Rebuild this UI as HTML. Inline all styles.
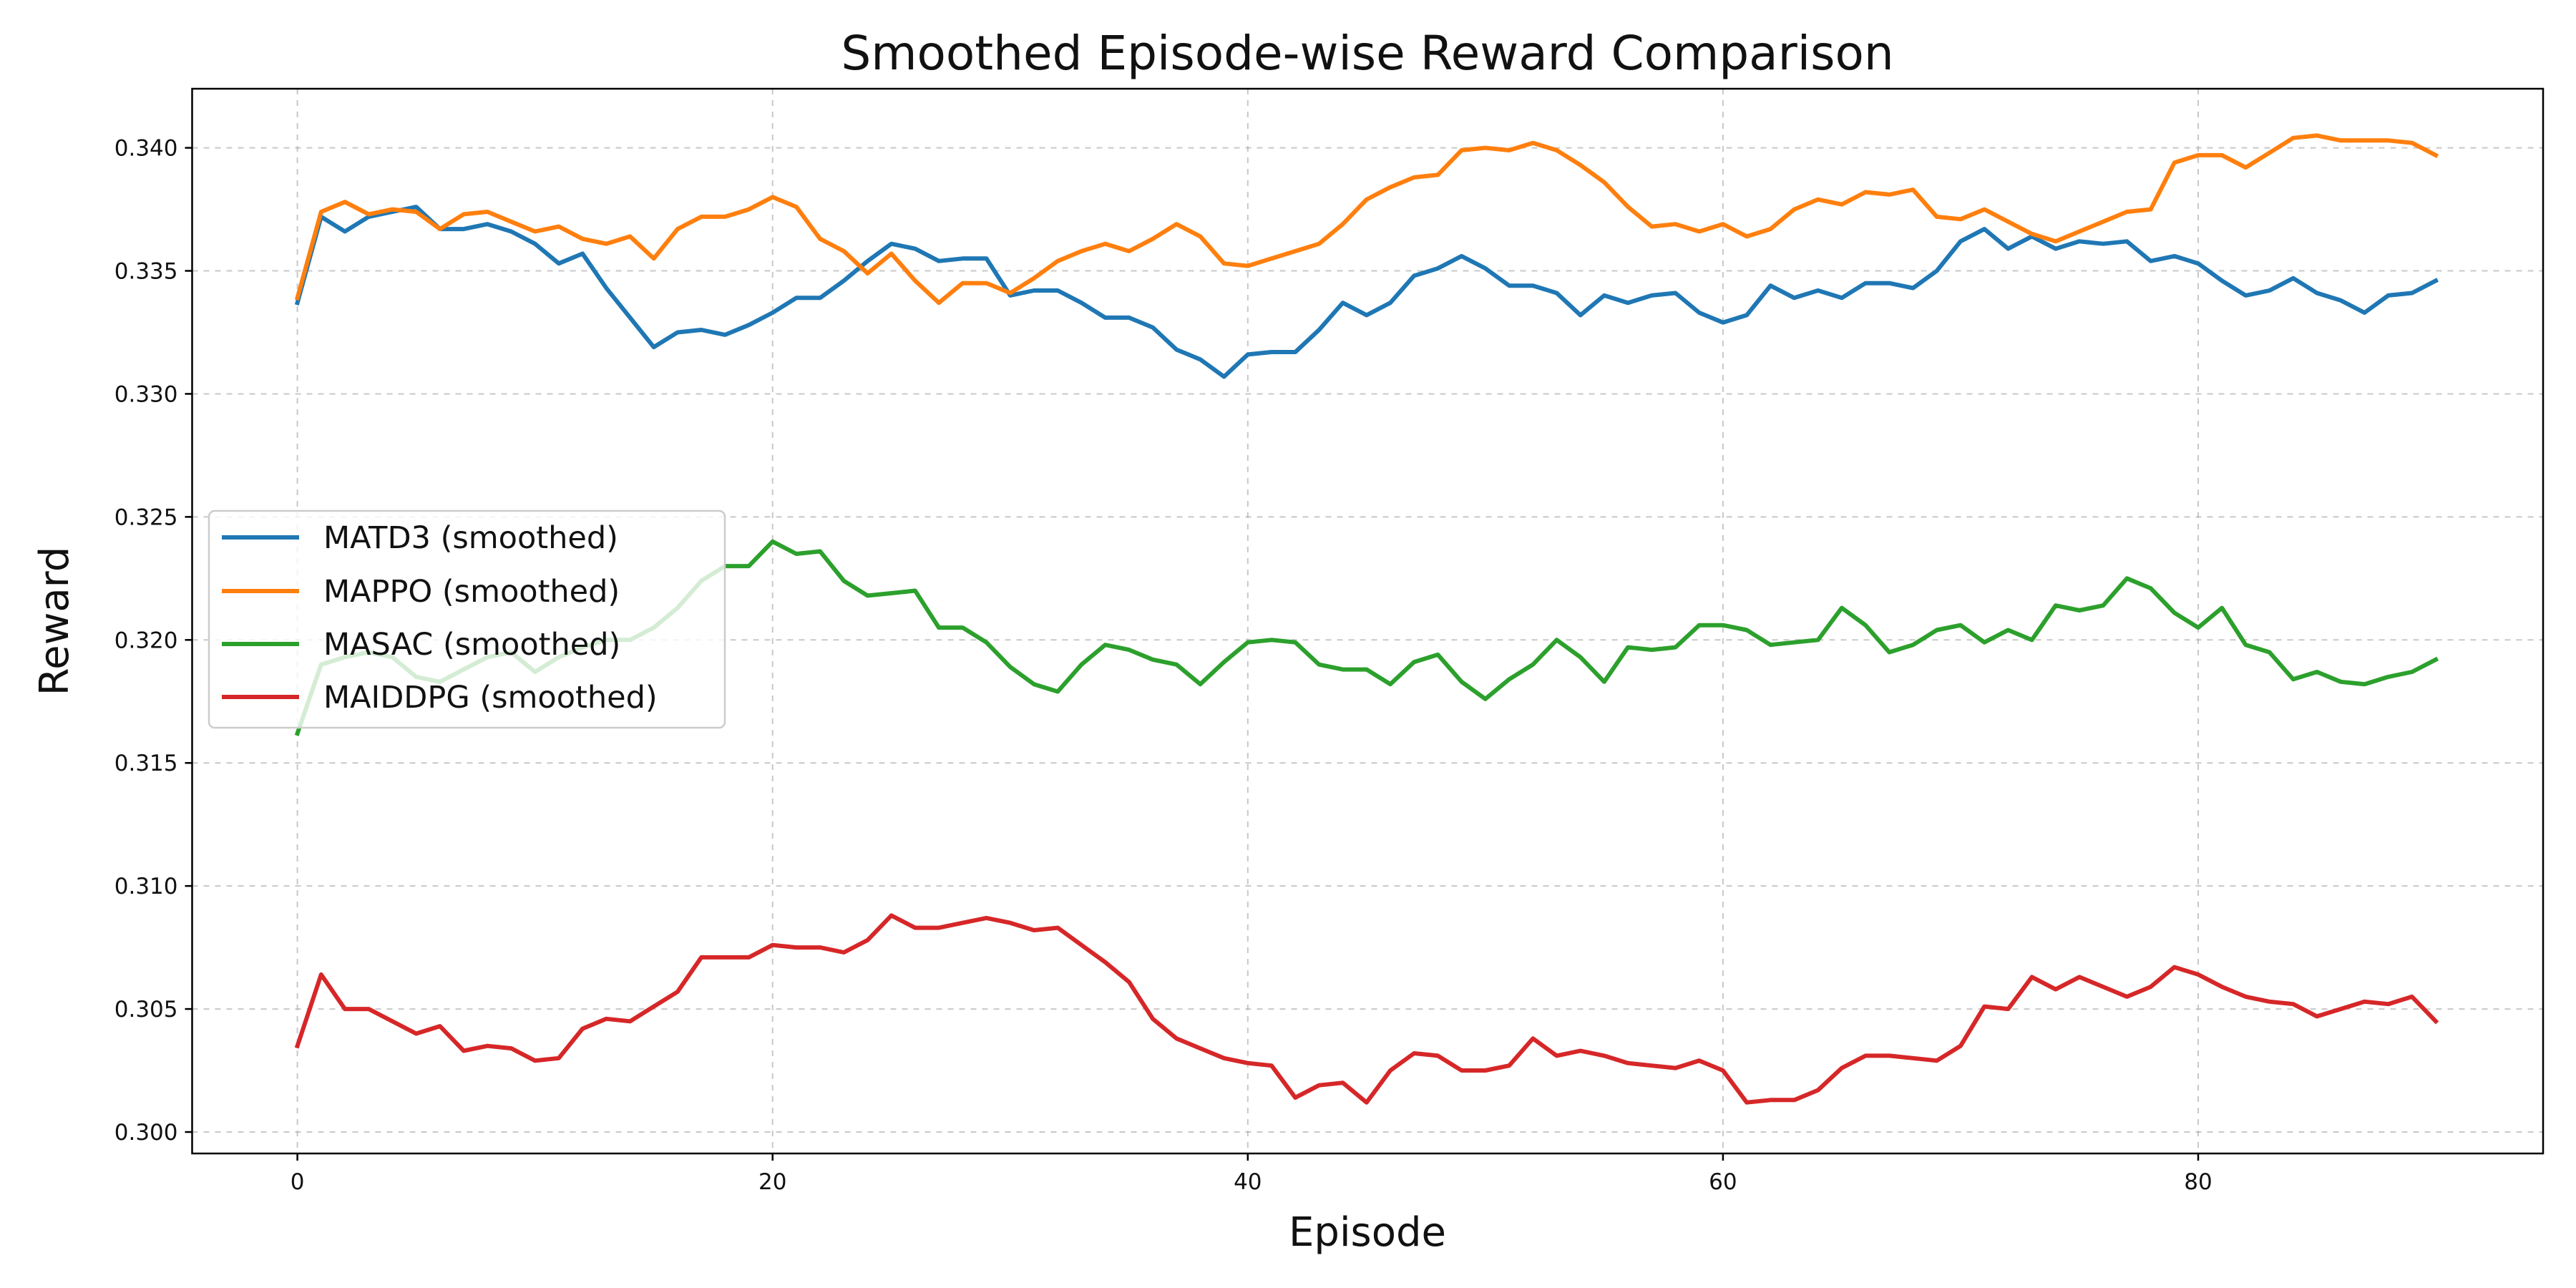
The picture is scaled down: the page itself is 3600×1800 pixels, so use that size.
<!DOCTYPE html>
<html><head><meta charset="utf-8"><style>
html,body{margin:0;padding:0;background:#fff;}
svg{display:block;font-family:"DejaVu Sans","Liberation Sans",sans-serif;}
</style></head><body>
<svg id="chart" width="3600" height="1800" viewBox="0 0 3600 1800" xmlns="http://www.w3.org/2000/svg">
<rect width="3600" height="1800" fill="#fff"/>
<text x="1911" y="97" font-size="66" text-anchor="middle" fill="#111">Smoothed Episode-wise Reward Comparison</text>
<text x="1911" y="1741" font-size="56" text-anchor="middle" fill="#111">Episode</text>
<text x="95" y="868" font-size="56" text-anchor="middle" fill="#111" transform="rotate(-90 95 868)">Reward</text>
<g id="grid"></g><g id="ticks"></g><g id="lines"></g>
<rect x="268.5" y="124" width="3285.5" height="1488" fill="none" stroke="#000" stroke-width="2.5"/>
<g id="legend"></g>
</svg>
<script>
const episodes = Array.from({length:91},(_,i)=>i);
const seriesNames = ["MATD3 (smoothed)","MAPPO (smoothed)","MASAC (smoothed)","MAIDDPG (smoothed)"];
const seriesColors = ["#1f77b4","#ff7f0e","#2ca02c","#d62728"];
const matd3 = [0.3337,0.3372,0.3366,0.3372,0.3374,0.3376,0.3367,0.3367,0.3369,0.3366,0.3361,0.3353,0.3357,0.3343,0.3331,0.3319,0.3325,0.3326,0.3324,0.3328,0.3333,0.3339,0.3339,0.3346,0.3354,0.3361,0.3359,0.3354,0.3355,0.3355,0.3340,0.3342,0.3342,0.3337,0.3331,0.3331,0.3327,0.3318,0.3314,0.3307,0.3316,0.3317,0.3317,0.3326,0.3337,0.3332,0.3337,0.3348,0.3351,0.3356,0.3351,0.3344,0.3344,0.3341,0.3332,0.3340,0.3337,0.3340,0.3341,0.3333,0.3329,0.3332,0.3344,0.3339,0.3342,0.3339,0.3345,0.3345,0.3343,0.3350,0.3362,0.3367,0.3359,0.3364,0.3359,0.3362,0.3361,0.3362,0.3354,0.3356,0.3353,0.3346,0.3340,0.3342,0.3347,0.3341,0.3338,0.3333,0.3340,0.3341,0.3346];
const mappo = [0.3339,0.3374,0.3378,0.3373,0.3375,0.3374,0.3367,0.3373,0.3374,0.3370,0.3366,0.3368,0.3363,0.3361,0.3364,0.3355,0.3367,0.3372,0.3372,0.3375,0.3380,0.3376,0.3363,0.3358,0.3349,0.3357,0.3346,0.3337,0.3345,0.3345,0.3341,0.3347,0.3354,0.3358,0.3361,0.3358,0.3363,0.3369,0.3364,0.3353,0.3352,0.3355,0.3358,0.3361,0.3369,0.3379,0.3384,0.3388,0.3389,0.3399,0.3400,0.3399,0.3402,0.3399,0.3393,0.3386,0.3376,0.3368,0.3369,0.3366,0.3369,0.3364,0.3367,0.3375,0.3379,0.3377,0.3382,0.3381,0.3383,0.3372,0.3371,0.3375,0.3370,0.3365,0.3362,0.3366,0.3370,0.3374,0.3375,0.3394,0.3397,0.3397,0.3392,0.3398,0.3404,0.3405,0.3403,0.3403,0.3403,0.3402,0.3397];
const masac = [0.3162,0.3190,0.3193,0.3195,0.3193,0.3185,0.3183,0.3188,0.3193,0.3195,0.3187,0.3193,0.3197,0.3200,0.3200,0.3205,0.3213,0.3224,0.3230,0.3230,0.3240,0.3235,0.3236,0.3224,0.3218,0.3219,0.3220,0.3205,0.3205,0.3199,0.3189,0.3182,0.3179,0.3190,0.3198,0.3196,0.3192,0.3190,0.3182,0.3191,0.3199,0.3200,0.3199,0.3190,0.3188,0.3188,0.3182,0.3191,0.3194,0.3183,0.3176,0.3184,0.3190,0.3200,0.3193,0.3183,0.3197,0.3196,0.3197,0.3206,0.3206,0.3204,0.3198,0.3199,0.3200,0.3213,0.3206,0.3195,0.3198,0.3204,0.3206,0.3199,0.3204,0.3200,0.3214,0.3212,0.3214,0.3225,0.3221,0.3211,0.3205,0.3213,0.3198,0.3195,0.3184,0.3187,0.3183,0.3182,0.3185,0.3187,0.3192];
const maiddpg = [0.3035,0.3064,0.3050,0.3050,0.3045,0.3040,0.3043,0.3033,0.3035,0.3034,0.3029,0.3030,0.3042,0.3046,0.3045,0.3051,0.3057,0.3071,0.3071,0.3071,0.3076,0.3075,0.3075,0.3073,0.3078,0.3088,0.3083,0.3083,0.3085,0.3087,0.3085,0.3082,0.3083,0.3076,0.3069,0.3061,0.3046,0.3038,0.3034,0.3030,0.3028,0.3027,0.3014,0.3019,0.3020,0.3012,0.3025,0.3032,0.3031,0.3025,0.3025,0.3027,0.3038,0.3031,0.3033,0.3031,0.3028,0.3027,0.3026,0.3029,0.3025,0.3012,0.3013,0.3013,0.3017,0.3026,0.3031,0.3031,0.3030,0.3029,0.3035,0.3051,0.3050,0.3063,0.3058,0.3063,0.3059,0.3055,0.3059,0.3067,0.3064,0.3059,0.3055,0.3053,0.3052,0.3047,0.3050,0.3053,0.3052,0.3055,0.3045];
const xTicks = [0,20,40,60,80];
const yTicks = [0.300,0.305,0.310,0.315,0.320,0.325,0.330,0.335,0.340];
const yTickLabels = ["0.300","0.305","0.310","0.315","0.320","0.325","0.330","0.335","0.340"];

const NS="http://www.w3.org/2000/svg";
const X0=268.5,X1=3554,Y0=124,Y1=1612;
function xScale(v){return 415.6+(v-0)*(3072-415.6)/80;}
function yScale(v){return 1582+(v-0.300)*(206.6-1582)/0.040;}
function mk(tag,attrs,parent){const e=document.createElementNS(NS,tag);for(const k in attrs)e.setAttribute(k,attrs[k]);parent.appendChild(e);return e;}
const grid=document.getElementById('grid'),ticks=document.getElementById('ticks'),lines=document.getElementById('lines'),legend=document.getElementById('legend');
xTicks.forEach(t=>{
  const x=xScale(t);
  const g=mk('line',{x1:x,x2:x,y1:Y0,y2:Y1,stroke:'#b0b0b0','stroke-width':2,'stroke-dasharray':'8,8','stroke-opacity':0.7},grid);
  
  
  const tk=mk('line',{x1:x,x2:x,y1:Y1,y2:Y1+10,stroke:'#000','stroke-width':2.5},ticks);
  
  
  const lb=mk('text',{x:x,y:Y1+50,'font-size':31,'text-anchor':'middle',fill:'#111'},ticks);
  lb.textContent=String(t);
  
  
});
yTicks.forEach((t,i)=>{
  const y=yScale(t);
  const g=mk('line',{x1:X0,x2:X1,y1:y,y2:y,stroke:'#b0b0b0','stroke-width':2,'stroke-dasharray':'8,8','stroke-opacity':0.7},grid);
  
  
  const tk=mk('line',{x1:X0-10,x2:X0,y1:y,y2:y,stroke:'#000','stroke-width':2.5},ticks);
  
  
  const lb=mk('text',{x:X0-20,y:y+11,'font-size':31,'text-anchor':'end',fill:'#111'},ticks);
  lb.textContent=yTickLabels[i];
  
  
});
const allSeries=[matd3,mappo,masac,maiddpg];
const lineNames=['matd3-line','mappo-line','masac-line','maiddpg-line'];
allSeries.forEach((s,k)=>{
  const d=s.map((v,i)=>(i?'L':'M')+xScale(episodes[i]).toFixed(1)+','+yScale(v).toFixed(1)).join('');
  const p=mk('path',{d:d,fill:'none',stroke:seriesColors[k],'stroke-width':6,'stroke-linejoin':'round','stroke-linecap':'square'},lines);
  
  
});
const box=mk('rect',{x:292,y:714,width:721,height:303,rx:8,fill:'#fff','fill-opacity':0.8,stroke:'#ccc','stroke-width':2.5},legend);


const ly=[751,826,900,974];
seriesNames.forEach((n,k)=>{
  const l=mk('line',{x1:310,x2:418,y1:ly[k],y2:ly[k],stroke:seriesColors[k],'stroke-width':6},legend);
  
  
  const t=mk('text',{x:452,y:ly[k]+15,'font-size':43,fill:'#111'},legend);
  t.textContent=n;
  
  
});
</script>
</body></html>
